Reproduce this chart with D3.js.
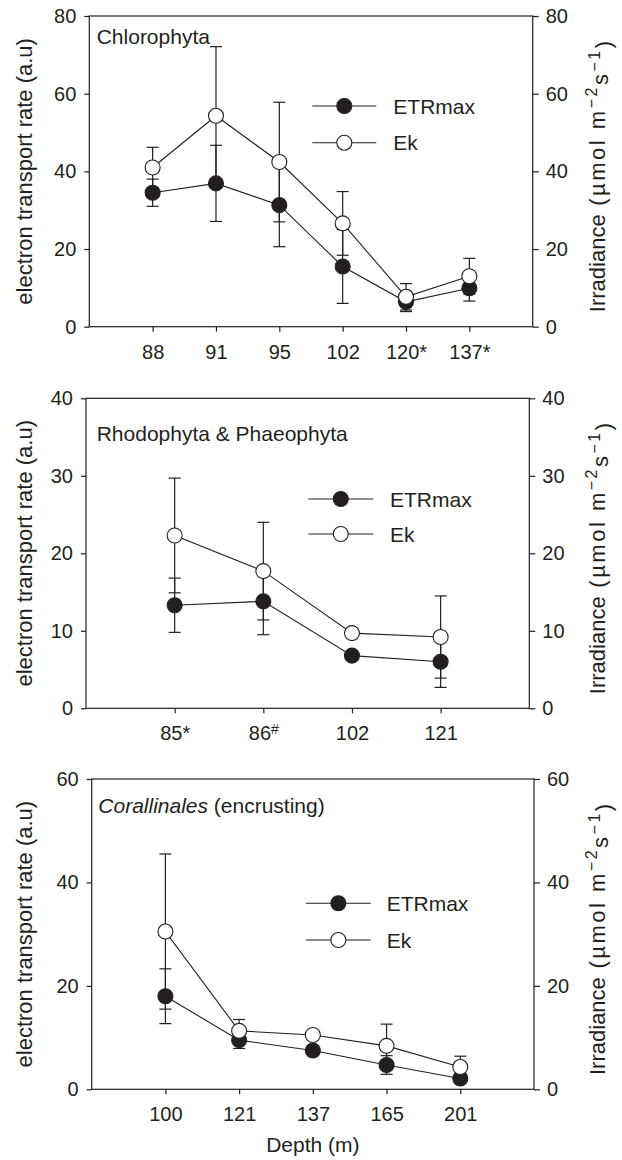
<!DOCTYPE html>
<html>
<head>
<meta charset="utf-8">
<script src="https://cdn.jsdelivr.net/npm/d3@7"></script>
<style>
  body { margin: 0; background: #fff; }
  svg text { font-family: "Liberation Sans", Arial, sans-serif; fill: #231f20; }
</style>
</head>
<body>
<svg id="chart" width="622" height="1160"></svg>
<script>
// Chlorophyta
const chloroDepths = ["88", "91", "95", "102", "120*", "137*"]
const chloroEtr = [34.5, 36.9, 31.3, 15.5, 6.4, 9.9]
const chloroEtrSd = [3.5, 9.8, 10.7, 9.5, 2.5, 3.3]
const chloroEk = [41.0, 54.3, 42.4, 26.6, 7.7, 13.0]
const chloroEkSd = [5.2, 17.8, 15.4, 8.2, 3.4, 4.6]
const chloroTicks = [0, 20, 40, 60, 80]

// Rhodophyta & Phaeophyta
const rhodoDepths = ["85*", "86#", "102", "121"]
const rhodoEtr = [13.3, 13.8, 6.8, 6.0]
const rhodoEtrSd = [3.5, 4.3, 0.5, 3.3]
const rhodoEk = [22.3, 17.7, 9.7, 9.2]
const rhodoEkSd = [7.4, 6.3, 0.5, 5.3]
const rhodoTicks = [0, 10, 20, 30, 40]

// Corallinales (encrusting)
const coralDepths = ["100", "121", "137", "165", "201"]
const coralEtr = [18.0, 9.5, 7.5, 4.7, 2.1]
const coralEtrSd = [5.3, 1.6, 0.8, 1.8, 0.8]
const coralEk = [30.5, 11.3, 10.5, 8.4, 4.3]
const coralEkSd = [15.0, 2.2, 0.8, 4.2, 2.1]
const coralTicks = [0, 20, 40, 60]

const seriesNames = ["ETRmax", "Ek"]
const ink = "#231f20"

const panels = [
  {
    title: [["Chlorophyta", false]],
    depths: chloroDepths, etr: chloroEtr, etrSd: chloroEtrSd, ek: chloroEk, ekSd: chloroEkSd,
    ticks: chloroTicks,
    box: { left: 89.3, top: 16, right: 532.7, bottom: 326.7 },
    titlePos: [7.4, 28],
    legend: { x1: 223, x2: 287, y: 90, dy: 36.7, tx: 304 }
  },
  {
    title: [["Rhodophyta & Phaeophyta", false]],
    depths: rhodoDepths, etr: rhodoEtr, etrSd: rhodoEtrSd, ek: rhodoEk, ekSd: rhodoEkSd,
    ticks: rhodoTicks,
    box: { left: 86, top: 398.3, right: 529.3, bottom: 708.3 },
    titlePos: [10.7, 43],
    legend: { x1: 222.3, x2: 287.3, y: 100.7, dy: 35, tx: 304 }
  },
  {
    title: [["Corallinales", true], [" (encrusting)", false]],
    depths: coralDepths, etr: coralEtr, etrSd: coralEtrSd, ek: coralEk, ekSd: coralEkSd,
    ticks: coralTicks,
    box: { left: 91.7, top: 779, right: 534, bottom: 1089.3 },
    titlePos: [6.6, 33.7],
    legend: { x1: 214.3, x2: 279, y: 124.3, dy: 36.7, tx: 295 },
    xTitle: "Depth (m)"
  }
]

const svg = d3.select("#chart")
const R = 7.5   // marker radius
const CAP = 6   // half width of error bar caps

panels.forEach(drawPanel)

function drawPanel(p) {
  const w = p.box.right - p.box.left
  const h = p.box.bottom - p.box.top
  const g = svg.append("g")
    .attr("transform", "translate(" + p.box.left + "," + p.box.top + ")")

  const x = d3.scalePoint()
    .domain(p.depths)
    .range([0, w])
    .padding(1)

  const y = d3.scaleLinear()
    .domain([0, d3.max(p.ticks)])
    .range([h, 0])

  // axes
  const ax = g.append("g")
    .attr("transform", "translate(0," + h + ")")
    .call(d3.axisBottom(x).tickSize(5).tickPadding(13).tickSizeOuter(0))
  const ayl = g.append("g")
    .call(d3.axisLeft(y).tickValues(p.ticks).tickSize(5).tickPadding(8))
  const ayr = g.append("g")
    .attr("transform", "translate(" + w + ",0)")
    .call(d3.axisRight(y).tickValues(p.ticks).tickSize(6).tickPadding(7))

  ;[ax, ayl, ayr].forEach(a => {
    a.select(".domain").remove()
    a.selectAll("line").attr("stroke", ink).attr("stroke-width", 1.2)
    a.selectAll("text").style("font-size", "20px").attr("fill", ink)
  })

  // superscript "#" on depth labels
  ax.selectAll("text").each(function(d) {
    if (d.endsWith("#")) {
      const t = d3.select(this).text(d.slice(0, -1))
      t.append("tspan")
        .attr("dy", "-0.45em")
        .style("font-size", "14px")
        .text("#")
    }
  })

  // frame
  g.append("rect")
    .attr("width", w)
    .attr("height", h)
    .attr("fill", "none")
    .attr("stroke", ink)
    .attr("stroke-width", 1.2)

  const line = d3.line()
    .x(d => x(d.depth))
    .y(d => y(d.v))

  const series = [
    { vals: p.etr, sd: p.etrSd, fill: ink },
    { vals: p.ek, sd: p.ekSd, fill: "#fff" }
  ].map(s => ({
    fill: s.fill,
    pts: p.depths.map((depth, i) => ({ depth: depth, v: s.vals[i], sd: s.sd[i] }))
  }))

  // connecting lines
  series.forEach(s => {
    g.append("path")
      .datum(s.pts)
      .attr("d", line)
      .attr("fill", "none")
      .attr("stroke", ink)
      .attr("stroke-width", 1.1)
  })

  // error bars
  series.forEach(s => {
    const eb = g.append("g")
      .attr("stroke", ink)
      .attr("stroke-width", 1.2)
      .selectAll("g")
      .data(s.pts)
      .join("g")
    eb.append("line")
      .attr("x1", d => x(d.depth)).attr("x2", d => x(d.depth))
      .attr("y1", d => y(d.v - d.sd)).attr("y2", d => y(d.v + d.sd))
    eb.append("line")
      .attr("x1", d => x(d.depth) - CAP).attr("x2", d => x(d.depth) + CAP)
      .attr("y1", d => y(d.v + d.sd)).attr("y2", d => y(d.v + d.sd))
    eb.append("line")
      .attr("x1", d => x(d.depth) - CAP).attr("x2", d => x(d.depth) + CAP)
      .attr("y1", d => y(d.v - d.sd)).attr("y2", d => y(d.v - d.sd))
  })

  // markers
  series.forEach(s => {
    g.append("g")
      .selectAll("circle")
      .data(s.pts)
      .join("circle")
      .attr("cx", d => x(d.depth))
      .attr("cy", d => y(d.v))
      .attr("r", R)
      .attr("fill", s.fill)
      .attr("stroke", ink)
      .attr("stroke-width", 1.1)
  })

  // panel title
  const tt = g.append("text")
    .attr("x", p.titlePos[0])
    .attr("y", p.titlePos[1])
    .style("font-size", "21px")
  p.title.forEach(([str, it]) => {
    tt.append("tspan")
      .style("font-style", it ? "italic" : "normal")
      .text(str)
  })

  // legend
  const lg = g.append("g")
  series.forEach((s, i) => {
    const ly = p.legend.y + i * p.legend.dy
    lg.append("line")
      .attr("x1", p.legend.x1).attr("x2", p.legend.x2)
      .attr("y1", ly).attr("y2", ly)
      .attr("stroke", ink)
      .attr("stroke-width", 1.1)
    lg.append("circle")
      .attr("cx", (p.legend.x1 + p.legend.x2) / 2)
      .attr("cy", ly)
      .attr("r", R)
      .attr("fill", s.fill)
      .attr("stroke", ink)
      .attr("stroke-width", 1.1)
    lg.append("text")
      .attr("x", p.legend.tx)
      .attr("y", ly)
      .attr("dy", "0.36em")
      .style("font-size", "21px")
      .text(seriesNames[i])
  })

  // left axis title
  svg.append("text")
    .attr("transform", "translate(32," + (p.box.top + h / 2) + ") rotate(-90)")
    .attr("text-anchor", "middle")
    .style("font-size", "22px")
    .text("electron transport rate (a.u)")

  // right axis title (the unit part is set a little wider, as in the source)
  const rt = svg.append("text")
    .attr("transform", "translate(605," + (p.box.top + h / 2 + 4) + ") rotate(-90)")
    .attr("text-anchor", "middle")
    .style("font-size", "22px")
  rt.append("tspan").text("Irradiance")
  const unit = [
    ["\u00a0(\u00b5mol\u00a0m", 0, null],
    ["\u22122", "-0.5em", "16px"],
    ["s", "0.5em", null],
    ["\u22121", "-0.5em", "16px"],
    [")", "0.5em", null]
  ]
  unit.forEach(([str, dy, fs]) => {
    const ts = rt.append("tspan")
      .attr("dy", dy)
      .style("letter-spacing", "2.5px")
      .text(str)
    if (fs) ts.style("font-size", fs)
  })

  if (p.xTitle) {
    svg.append("text")
      .attr("x", p.box.left + w / 2)
      .attr("y", 1152)
      .attr("text-anchor", "middle")
      .style("font-size", "21px")
      .text(p.xTitle)
  }
}
</script>
</body>
</html>
